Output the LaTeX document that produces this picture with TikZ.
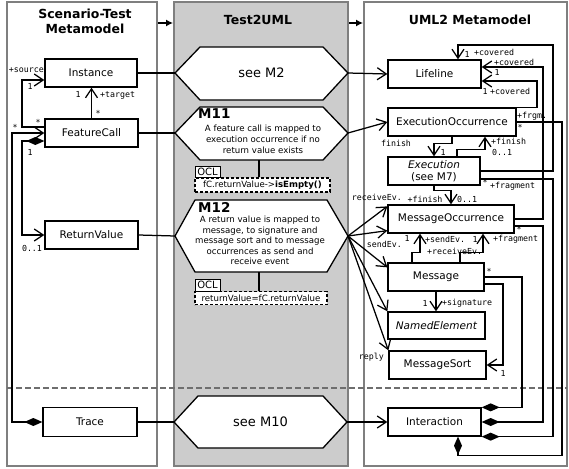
\documentclass[tikz,border=0pt]{standalone}
\usepackage{fontspec}
\setmainfont{DejaVu Sans}
\newfontfamily\monofam{DejaVu Sans Mono}
\usetikzlibrary{arrows.meta,calc}
\definecolor{panelgray}{HTML}{7F7F7F}
\definecolor{midfill}{HTML}{CCCCCC}
\definecolor{dashgray}{HTML}{6E6E6E}
\tikzset{
 cls/.style={draw, line width=1.3pt, fill=white, inner sep=0pt, font=\fontsize{10.5}{12}\selectfont, minimum height=28pt},
 role/.style={font=\monofam\fontsize{8.3}{9}\selectfont, inner sep=0pt},
 conn/.style={line width=1.25pt},
 openarr/.style={conn, -{Straight Barb[length=9pt,width=12pt]}},
 compo/.style={conn, {Diamond[length=18pt,width=8pt]}-},
 compoarr/.style={conn, {Diamond[length=18pt,width=8pt]}-{Straight Barb[length=9pt,width=12pt]}},
 hexshape/.style={draw, line width=1.3pt, fill=white},
 panelbox/.style={draw=panelgray, line width=2pt},
 titletext/.style={font=\bfseries\fontsize{12.5}{15}\selectfont, align=center},
 seetext/.style={font=\fontsize{13}{15}\selectfont},
 mtitle/.style={font=\bfseries\fontsize{13.5}{15}\selectfont, inner sep=0pt, anchor=base west},
 hextext/.style={align=center, inner sep=0pt},
 ocltag/.style={draw, line width=1pt, fill=white, inner sep=0pt, minimum width=25pt, minimum height=11pt, font=\fontsize{10}{11}\selectfont},
 oclexpr/.style={draw, dashed, dash pattern=on 3pt off 2pt, line width=1.1pt, fill=white, inner sep=0pt, minimum height=14pt, font=\fontsize{8.6}{10}\selectfont},
 parr/.style={line width=1.3pt, -{Latex[length=7pt,width=7pt]}},
}
\begin{document}
\begin{tikzpicture}[x=1pt,y=-1pt]
\useasboundingbox (0,0) rectangle (569,468);
% panels
\node[panelbox, fill=white, minimum width=150pt, minimum height=464pt] (pl) at (82,234) {};
\node[panelbox, fill=midfill, minimum width=174pt, minimum height=464pt] (pm) at (261,234) {};
\node[panelbox, fill=white, minimum width=203pt, minimum height=464pt] (pr) at (465.5,234) {};
\node[titletext] (t1) at (85,21) {Scenario-Test\\Metamodel};
\node[titletext] (t2) at (258,20) {Test2UML};
\node[titletext] (t3) at (470,20) {UML2 Metamodel};
\coordinate (ya) at (0,23);
\draw[parr] (pl.east |- ya) -- (pm.west |- ya);
\draw[parr] (pm.east |- ya) -- (pr.west |- ya);
% divider
\coordinate (dl) at (7,388);
\coordinate (dr) at (567,388);
\draw[dashgray, line width=1.2pt, dash pattern=on 6pt off 3pt] (dl) -- (dr);

% left classes
\node[cls, minimum width=92pt] (inst) at (91,73) {Instance};
\node[cls, minimum width=93pt] (fc) at (91.5,133) {FeatureCall};
\node[cls, minimum width=93pt] (rv) at (91.5,235) {ReturnValue};
\node[cls, minimum width=94pt, minimum height=29pt] (trace) at (90,422) {Trace};

% right classes
\node[cls, minimum width=93pt] (life) at (434.5,74) {Lifeline};
\node[cls, minimum width=128pt] (eo) at (452,122) {ExecutionOccurrence};
\node[cls, minimum width=92pt, align=center] (exe) at (434,171) {\textit{Execution}\\(see M7)};
\node[cls, minimum width=126pt] (mo) at (451,219) {MessageOccurrence};
\node[cls, minimum width=96pt] (msg) at (436,277) {Message};
\node[cls, minimum width=97pt, minimum height=27pt] (ne) at (436.5,325.5) {\textit{NamedElement}};
\node[cls, minimum width=97pt] (ms) at (437.5,365) {MessageSort};
\node[cls, minimum width=93pt] (inter) at (434.5,422) {Interaction};

% hexagons
\coordinate (m2w) at (175,73); \coordinate (m2e) at (348,73);
\draw[hexshape] (m2w) -- (200,47) -- (323,47) -- (m2e) -- (323,100) -- (200,100) -- cycle;
\node[seetext] (m2) at (261.5,73) {see M2};

\coordinate (m11w) at (175,133); \coordinate (m11e) at (348,133);
\draw[hexshape] (m11w) -- (200,107) -- (323,107) -- (m11e) -- (323,160) -- (200,160) -- cycle;
\node[mtitle] (m11t) at (198,118) {M11};
\node[hextext, font=\fontsize{8.6}{10.9}\selectfont] (m11x) at (263,139.5) {A feature call is mapped to\\execution occurrence if no\\return value exists};

\coordinate (m12w) at (175,236); \coordinate (m12e) at (348,236);
\draw[hexshape] (m12w) -- (195,200) -- (327,200) -- (m12e) -- (327,272) -- (195,272) -- cycle;
\node[mtitle] (m12t) at (198,212) {M12};
\node[hextext, font=\fontsize{8.6}{10.5}\selectfont] (m12x) at (260,240.5) {A return value is mapped to\\message, to signature and\\message sort and to message\\occurrences as send and\\receive event};

\coordinate (m10w) at (174,422); \coordinate (m10e) at (347,422);
\draw[hexshape] (m10w) -- (198,396) -- (323,396) -- (m10e) -- (323,448) -- (198,448) -- cycle;
\node[seetext] (m10) at (260.5,422) {see M10};

% OCL
\node[oclexpr, minimum width=135pt] (e1) at (262.5,185) {fC.returnValue->\textbf{isEmpty()}};
\node[ocltag] (o1) at (207.5,172) {OCL};
\coordinate (m11b) at (259,160);
\draw[conn] (m11b) -- (m11b |- e1.north);
\node[oclexpr, minimum width=132pt, minimum height=13pt] (e2) at (261,298) {returnValue=fC.returnValue};
\node[ocltag, minimum height=12pt] (o2) at (207.5,285) {OCL};
\coordinate (m12b) at (259,272);
\draw[conn] (m12b) -- (m12b |- e2.north);

% cross-panel connectors
\draw[conn] (inst.east) -- (m2w);
\draw[openarr] (m2e) -- (life.west);
\draw[conn] (fc.east) -- (m11w);
\draw[openarr] (m11e) -- (eo.west);
\draw[conn] (rv.east) -- (m12w);
\draw[openarr] (m12e) -- ([yshift=-2pt]mo.north west);
\draw[openarr] (m12e) -- ([yshift=3pt]mo.south west);
\draw[openarr] (m12e) -- ([yshift=-5pt]msg.north west);
\draw[openarr] (m12e) -- (ne.north west);
\draw[openarr] (m12e) -- (ms.north west);
\draw[conn] (trace.east) -- (m10w);
\draw[openarr] (m10e) -- (inter.west);

% left internal
\draw[openarr] ([yshift=6pt]fc.west) -| (22,80) -- ([yshift=-7pt]inst.west);
\draw[openarr] (fc.north) -- (fc.north |- inst.south);
\draw[compoarr] (trace.west) -| (12,133) -- (fc.west);
\draw[compoarr] ([yshift=-8pt]fc.west) -| (22,235) -- (rv.west);
\node[role, anchor=east] (l1) at (44,70) {+source};
\node[role] (l2) at (30,86) {1};
\node[role] (l3) at (38,122) {*};
\node[role] (l4) at (15,127) {*};
\node[role] (l5) at (30,152) {1};
\node[role] (l6) at (32,248) {0..1};
\node[role] (l7) at (78,94) {1};
\node[role, anchor=west] (l8) at (100,95) {+target};
\node[role] (l9) at (98,113) {*};

% right internal
\draw[openarr] (eo.south) -- ++(0,7) -| (exe.north);
\draw[openarr] ([xshift=23pt]exe.north) -- ++(0,-7) -| ([xshift=33pt]eo.south);
\draw[openarr] (exe.south) -- ++(0,5) -| (mo.north);
\draw[openarr] ([xshift=-24pt]msg.north) -- ++(0,-10) -| ([xshift=-31pt]mo.south);
\draw[openarr] ([xshift=24pt]msg.north) -- ++(0,-10) -| ([xshift=32pt]mo.south);
\draw[openarr] (msg.south) -- (msg.south |- ne.north);
\draw[openarr] ([yshift=-7pt]msg.east) -| (503,365) -- (ms.east);
\draw[compo] (inter.north east) -| (522,277) -- (msg.east);
\draw[compo] (inter.east) -| (543,226) -- ([yshift=-7pt]mo.east);
\draw[compo] (inter.south east) -| (553,179) -- ([yshift=-8pt]exe.east);
\draw[compo] ([xshift=23.5pt]inter.south) -- ++(0,19) -| (562,122) -- (eo.east);
\draw[openarr] (exe.east) -| (553,45) -| ([xshift=23.5pt]life.north);
\draw[openarr] (mo.east) -| (543,67) -- ([yshift=7pt]life.east);
\draw[openarr] (eo.north east) -| (537,81) -- ([yshift=-7pt]life.east);

% right labels
\node[role] (r1) at (467,54) {1};
\node[role, anchor=west] (r2) at (474,52) {+covered};
\node[role, anchor=west] (r3) at (494,62) {+covered};
\node[role] (r4) at (497,72) {1};
\node[role] (r5) at (485,91) {1};
\node[role, anchor=west] (r6) at (490,91) {+covered};
\node[role, anchor=west] (r7) at (517,116) {+frgm.};
\node[role] (r8) at (520,127) {*};
\node[role] (r9) at (396,143) {finish};
\node[role] (r10) at (443,152) {1};
\node[role, anchor=west] (r11) at (491,141) {+finish};
\node[role, anchor=west] (r12) at (492,152) {0..1};
\node[role] (r13) at (485,182) {*};
\node[role, anchor=west] (r14) at (490,186) {+fragment};
\node[role, anchor=east] (r15) at (402,197) {receiveEv.};
\node[role] (r16) at (425,199) {+finish};
\node[role, anchor=west] (r17) at (457,199) {0..1};
\node[role] (r18) at (519,229) {*};
\node[role, anchor=west] (r19) at (493,239) {+fragment};
\node[role, anchor=east] (r20) at (402,244) {sendEv.};
\node[role] (r21) at (407,238) {1};
\node[role, anchor=west] (r22) at (425,239) {+sendEv.};
\node[role] (r23) at (475,239) {1};
\node[role, anchor=west] (r24) at (427,251) {+receiveEv.};
\node[role] (r25) at (425,303) {1};
\node[role, anchor=west] (r26) at (442,303) {+signature};
\node[role] (r27) at (489,271) {*};
\node[role] (r28) at (503,373) {1};
\node[role, anchor=east] (r29) at (384,357) {reply};
\end{tikzpicture}
\end{document}
